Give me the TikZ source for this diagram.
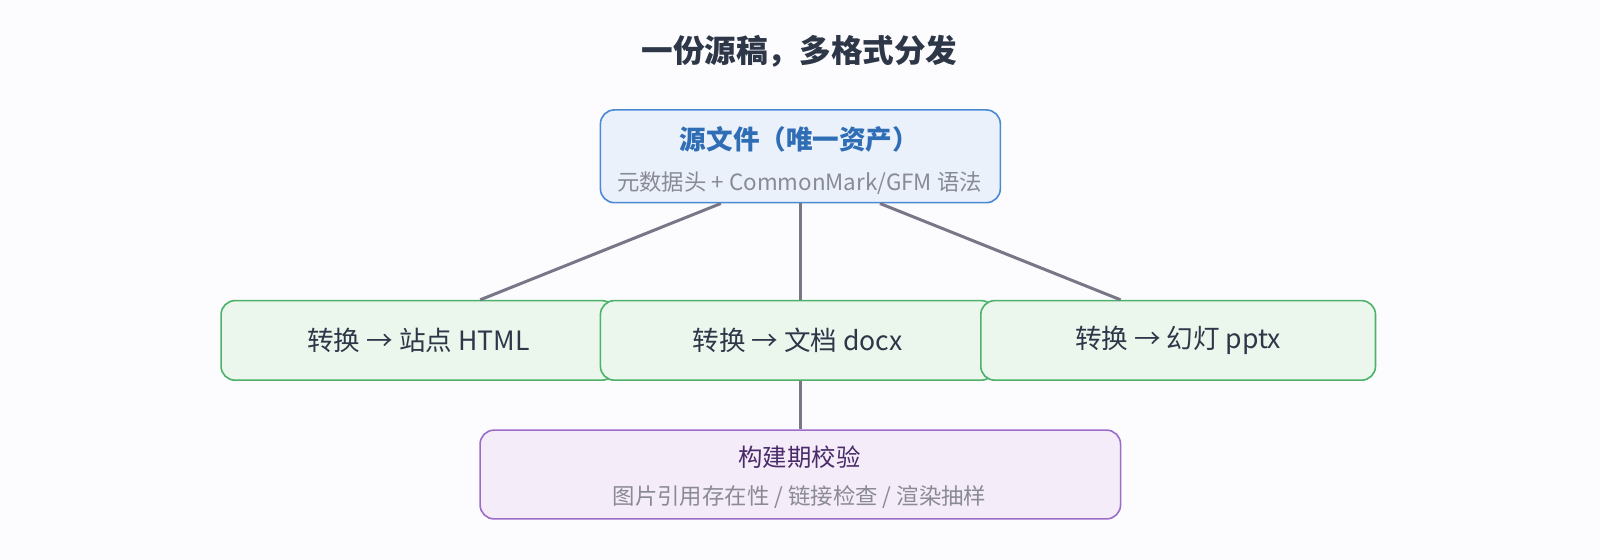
\documentclass[tikz,border=0pt]{standalone}
\usepackage{fontspec}
\setmainfont{Noto Sans CJK SC}
\definecolor{pagebg}{HTML}{FCFCFE}
\definecolor{srcfill}{HTML}{EAF1FB}
\definecolor{srcdraw}{HTML}{4A8AD4}
\definecolor{srctext}{HTML}{2F6DB5}
\definecolor{convfill}{HTML}{EBF6EC}
\definecolor{convdraw}{HTML}{4CB26A}
\definecolor{chkfill}{HTML}{F4ECF8}
\definecolor{chkdraw}{HTML}{9B6CC9}
\definecolor{chktext}{HTML}{4A2A6A}
\definecolor{maintext}{HTML}{2D3748}
\definecolor{subtext}{HTML}{8A8A96}
\definecolor{linkcol}{HTML}{777788}
\tikzset{
  box/.style={draw, rounded corners=7pt, line width=0.8pt, anchor=north west, inner sep=0pt},
  conv/.style={box, fill=convfill, draw=convdraw, minimum width=197.4pt, minimum height=39.8pt,
    font=\fontsize{13.3}{15}\selectfont, text=maintext},
  link/.style={draw=linkcol, line width=1.5pt},
}
\begin{document}
\begin{tikzpicture}[x=0.51pt, y=-0.51pt]

% Canvas
\fill[pagebg] (0,0) rectangle (1600,560);

% Title
\node[font=\fontsize{15.8}{18}\selectfont\bfseries, text=maintext] (title) at (784,50) {一份源稿，多格式分发};

% Source file
\node[box, fill=srcfill, draw=srcdraw, minimum width=200pt, minimum height=46.4pt] (src) at (588,107) {};
\node[font=\fontsize{13.3}{15}\selectfont\bfseries, text=srctext] (srctitle) at (784,137) {源文件（唯一资产）};
\node[font=\fontsize{11.2}{13}\selectfont, text=subtext] (srcsub) at (784,180) {元数据头 + CommonMark/GFM 语法};

% Conversions
\node[conv] (html) at (216,294) {转换 → 站点 HTML};
\node[conv] (docx) at (588,294) {转换 → 文档 docx};
\node[conv] (pptx) at (961,294) {转换 → 幻灯 pptx};

% Build-time check
\node[box, fill=chkfill, draw=chkdraw, minimum width=320.3pt, minimum height=44.4pt] (chk) at (470,421) {};
\node[font=\fontsize{12.2}{14}\selectfont, text=chktext] (chktitle) at (784,448) {构建期校验};
\node[font=\fontsize{11.2}{13}\selectfont, text=subtext] (chksub) at (784,487) {图片引用存在性 / 链接检查 / 渲染抽样};

% Links
\draw[link] ([xshift=-39.8pt]src.south) -- ([xshift=30.9pt]html.north);
\draw[link] (src.south) -- (src.south |- docx.north);
\draw[link] ([xshift=39.8pt]src.south) -- ([xshift=-28.8pt]pptx.north);
\draw[link] (src.south |- docx.south) -- (src.south |- chk.north);

\pgfresetboundingbox
\useasboundingbox (0,0) rectangle (1569,549);
\end{tikzpicture}
\end{document}
